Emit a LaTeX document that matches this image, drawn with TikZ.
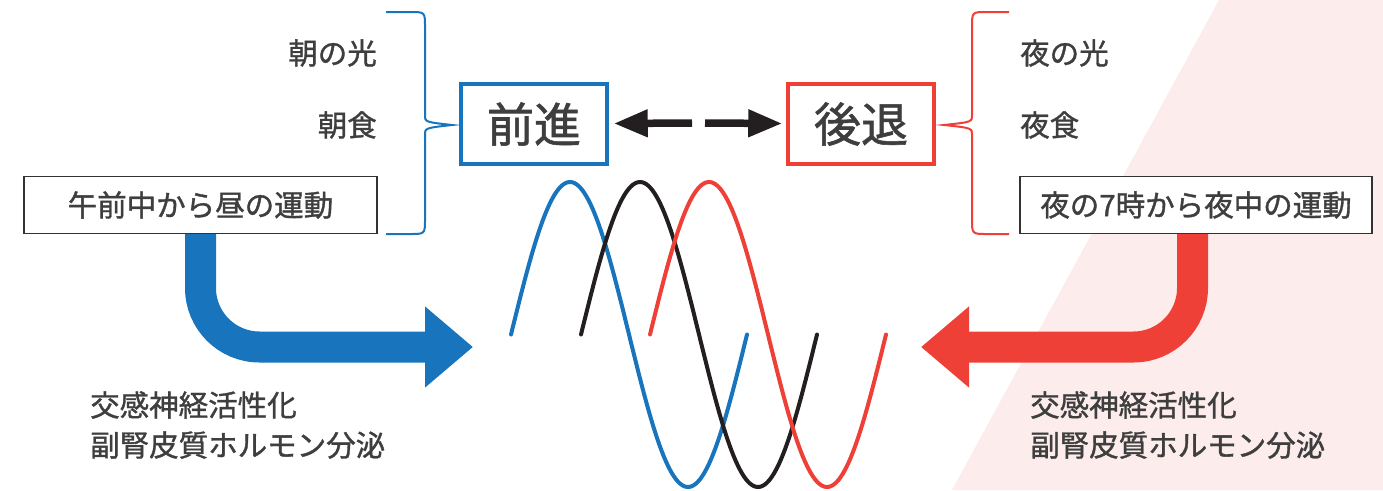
\documentclass[tikz,border=0pt]{standalone}
\usepackage{fontspec}
\setmainfont{Noto Sans CJK JP}[FakeBold=1.2,AutoFakeBold=1.2]
\usetikzlibrary{arrows.meta}
\definecolor{cblue}{HTML}{1874BC}
\definecolor{cred}{HTML}{EF4038}
\definecolor{cpink}{HTML}{FCECEC}
\definecolor{ctext}{HTML}{3E3E3E}
\definecolor{cblack}{HTML}{231F20}
\definecolor{cbox}{HTML}{333333}
\begin{document}
\begin{tikzpicture}[x=1pt,y=-1pt,
  lbl/.style={text=ctext,font=\fontsize{29.5}{32}\selectfont,inner sep=0pt},
  factbox/.style={draw=cbox,line width=1.4pt,fill=white,minimum width=353pt,minimum height=57pt,inner sep=0pt,text=ctext,font=\fontsize{29.5}{32}\selectfont},
  keybox/.style={line width=3.5pt,fill=white,minimum width=146pt,minimum height=80pt,inner sep=0pt,text=ctext,font=\fontsize{47}{50}\selectfont},
  brace/.style={line width=2pt},
  wave/.style={line width=4pt,line cap=round},
  bigarrow/.style={line width=31pt,rounded corners=59pt,-{Triangle[length=48pt 0 0,width=78pt 0 0]}},
  swaparrow/.style={cblack,line width=7.5pt,-{Triangle[length=34pt 0 0,width=26pt 0 0]}},
  effect/.style={text=ctext,font=\fontsize{29.5}{40}\selectfont,align=left,inner sep=0pt,anchor=west}]
\useasboundingbox (0,0) rectangle (1383,490);
% pink background
\fill[cpink] (1219,0) -- (1383,0) -- (1383,490) -- (952,490) -- cycle;

% left side texts
\node[lbl,anchor=east] (mlight) at (377,53) {朝の光};
\node[lbl,anchor=east] (mfood) at (377,125) {朝食};
\node[factbox] (mex) at (200.5,205) {午前中から昼の運動};
% right side texts
\node[lbl,anchor=west] (nlight) at (1020,53) {夜の光};
\node[lbl,anchor=west] (nfood) at (1020,125) {夜食};
\node[factbox,minimum width=352pt] (nex) at (1196,205) {夜の7時から夜中の運動};

% braces
\draw[brace,cblue] (386,12) -- (410,12) .. controls (425,12) .. (425,27) -- (425,115)
  .. controls (425,122) .. (452,125) .. controls (425,128) .. (425,135) -- (425,219)
  .. controls (425,234) .. (410,234) -- (386,234);
\draw[brace,cred] (1009,12) -- (987,12) .. controls (972,12) .. (972,27) -- (972,115)
  .. controls (972,122) .. (944,125) .. controls (972,128) .. (972,135) -- (972,219)
  .. controls (972,234) .. (987,234) -- (1009,234);

% key boxes
\node[keybox,draw=cblue] (adv) at (534,124) {前進};
\node[keybox,draw=cred] (ret) at (861,124) {後退};
\coordinate (mL) at (692,123);
\coordinate (mR) at (705,123);
\draw[swaparrow,shorten >=5pt] (mL) -- (adv);
\draw[swaparrow,shorten >=4pt] (mR) -- (ret);

% waves
\draw[wave,cblue] plot[domain=0:236,samples=120] ({\x+511},{334.5-152.5*sin(\x/236*360)});
\draw[wave,cblack] plot[domain=0:236,samples=120] ({\x+581},{334.5-152.5*sin(\x/236*360)});
\draw[wave,cred] plot[domain=0:236,samples=120] ({\x+650},{334.5-152.5*sin(\x/236*360)});

% big arrows
\coordinate (tipL) at (473,347);
\coordinate (tipR) at (921,347);
\draw[bigarrow,cblue] (mex.south) |- (tipL);
\draw[bigarrow,cred] ([xshift=-3.5pt]nex.south) |- (tipR);

% effects
\node[effect] (effL) at (90,425) {交感神経活性化\\副腎皮質ホルモン分泌};
\node[effect] (effR) at (1030,425) {交感神経活性化\\副腎皮質ホルモン分泌};
\end{tikzpicture}
\end{document}
